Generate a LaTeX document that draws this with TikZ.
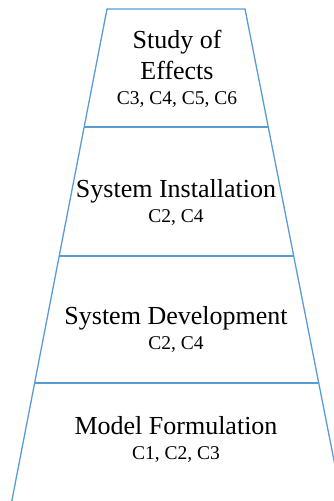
\documentclass[tikz,border=0pt]{standalone}
\usepackage{fontspec}
\setmainfont{Liberation Serif}
\usetikzlibrary{calc}
\definecolor{edgeblue}{RGB}{91,155,213}
\begin{document}
\begin{tikzpicture}[x=1pt,y=1pt,
  edge/.style={draw=edgeblue,line width=1.3pt},
  title/.style={anchor=base,inner sep=0pt,font=\fontsize{26}{30}\selectfont},
  sub/.style={anchor=base,inner sep=0pt,font=\fontsize{19.5}{23}\selectfont}]
\useasboundingbox (0,0) rectangle (334,501);
\clip (0,0) rectangle (334,501);
\coordinate (tl) at (107,492);
\coordinate (tr) at (245,492);
\coordinate (bl) at (11.8,0);
\coordinate (br) at (342,0);
\draw[edge] (bl) -- (tl) -- (tr) -- (br);
\coordinate (l1) at ($(tl)!0.2398!(bl)$);
\coordinate (r1) at ($(tr)!0.2398!(br)$);
\coordinate (l2) at ($(tl)!0.502!(bl)$);
\coordinate (r2) at ($(tr)!0.502!(br)$);
\coordinate (l3) at ($(tl)!0.760!(bl)$);
\coordinate (r3) at ($(tr)!0.760!(br)$);
\draw[edge] (l1) -- (r1);
\draw[edge] (l2) -- (r2);
\draw[edge] (l3) -- (r3);
\node[title] (s1) at (177,452) {Study of};
\node[title] (s2) at (177,421) {Effects};
\node[sub] (s3) at (177,396) {C3, C4, C5, C6};
\node[title] (i1) at (176,303) {System Installation};
\node[sub] (i2) at (176,278) {C2, C4};
\node[title] (d1) at (176,176) {System Development};
\node[sub] (d2) at (176,151) {C2, C4};
\node[title] (m1) at (176,66) {Model Formulation};
\node[sub] (m2) at (176,41) {C1, C2, C3};
\end{tikzpicture}
\end{document}
